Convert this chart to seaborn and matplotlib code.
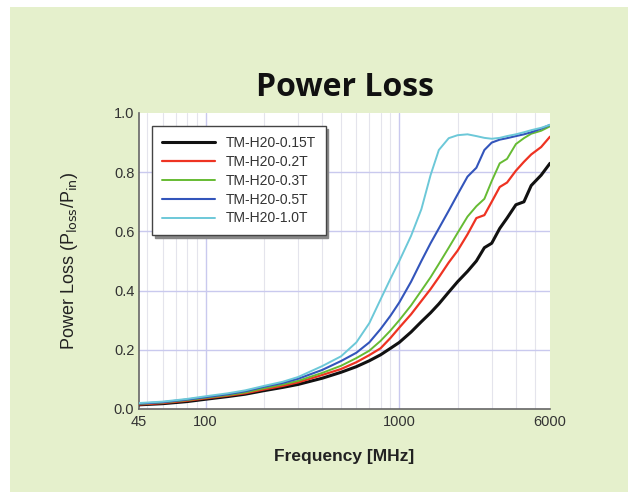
import numpy as np
import pandas as pd
import matplotlib
matplotlib.use("Agg")
import matplotlib.pyplot as plt
from matplotlib.patches import Rectangle
from matplotlib.ticker import FixedLocator, NullFormatter
import seaborn as sns

# frequency grid [MHz]
freq = [45, 60, 80, 100, 130, 160, 200, 250, 300, 400, 500, 600, 700, 800, 900,
        1000, 1150, 1300, 1450, 1600, 1800, 2000, 2250, 2500, 2750, 3000, 3300,
        3600, 4000, 4400, 4800, 5400, 6000]

loss_015 = [.014, .018, .025, .033, .042, .050, .062, .073, .083, .104, .124, .143,
            .163, .183, .205, .225, .260, .295, .325, .355, .395, .430, .465, .500,
            .545, .560, .610, .645, .690, .700, .755, .790, .830]
loss_02 = [.015, .020, .028, .036, .045, .053, .066, .078, .090, .115, .135, .158,
           .182, .205, .240, .275, .320, .365, .405, .445, .495, .535, .590, .645,
           .655, .700, .750, .765, .805, .835, .860, .885, .920]
loss_03 = [.017, .022, .030, .038, .047, .056, .070, .083, .095, .122, .146, .172,
           .197, .230, .265, .300, .350, .400, .445, .490, .545, .595, .650, .685,
           .710, .770, .830, .845, .895, .915, .930, .940, .955]
loss_05 = [.018, .023, .032, .040, .050, .060, .075, .088, .102, .132, .162, .190,
           .225, .270, .315, .360, .430, .500, .560, .610, .670, .725, .785, .815,
           .875, .900, .910, .915, .922, .928, .935, .947, .960]
loss_10 = [.020, .025, .034, .043, .053, .063, .078, .092, .108, .145, .178, .225,
           .290, .370, .440, .500, .585, .675, .790, .875, .915, .925, .928, .922,
           .916, .913, .916, .922, .928, .935, .942, .950, .960]

series = ["TM-H20-0.15T", "TM-H20-0.2T", "TM-H20-0.3T", "TM-H20-0.5T", "TM-H20-1.0T"]
colors = ["#111111", "#ee3322", "#66bb33", "#3355bb", "#6cc8d8"]
widths = [2.2, 1.6, 1.4, 1.5, 1.4]

values = [loss_015, loss_02, loss_03, loss_05, loss_10]
df = pd.concat([pd.DataFrame({"freq": freq, "loss": v, "series": s})
                for s, v in zip(series, values)], ignore_index=True)

sns.set_style("white")
plt.rcParams["font.family"] = ["Liberation Sans", "DejaVu Sans"]

fig = plt.figure(figsize=(6.39, 4.95), dpi=100, facecolor="white")
# light green panel behind everything
fig.patches.append(Rectangle((10 / 639, 1 - 492 / 495), 618 / 639, 485 / 495,
                             transform=fig.transFigure, facecolor="#e5f0cc",
                             edgecolor="none", zorder=-10))
ax = fig.add_axes([138.5 / 639, 1 - 409 / 495, 411.5 / 639, 296 / 495])
ax.set_zorder(2)
ax.set_facecolor("white")

for s, c, w in zip(series, colors, widths):
    sns.lineplot(data=df[df["series"] == s], x="freq", y="loss", color=c,
                 linewidth=w, ax=ax, label=s, zorder=3,
                 solid_joinstyle="round", solid_capstyle="round")

ax.set_xscale("log")
ax.set_xlim(45, 6000)
ax.set_ylim(0, 1.0)

major_x = [45, 100, 1000, 6000]
minor_x = [50, 60, 70, 80, 90, 200, 300, 400, 500, 600, 700, 800, 900,
           2000, 3000, 4000, 5000]
ax.xaxis.set_major_locator(FixedLocator(major_x))
ax.xaxis.set_minor_locator(FixedLocator(minor_x))
ax.xaxis.set_minor_formatter(NullFormatter())
ax.set_xticklabels([str(v) for v in major_x])
ax.set_yticks(np.arange(0, 1.01, 0.2))
ax.set_yticks(np.arange(0.1, 1.0, 0.2), minor=True)
ax.set_yticklabels([f"{v:.1f}" for v in np.arange(0, 1.01, 0.2)])

for v in [100, 1000]:
    ax.axvline(v, color="#c9c9ee", lw=1.0, zorder=1)
for v in minor_x:
    ax.axvline(v, color="#e4e4ec", lw=0.8, zorder=1)
for v in [0.2, 0.4, 0.6, 0.8]:
    ax.axhline(v, color="#c9c9ee", lw=1.0, zorder=1)

ax.tick_params(axis="both", which="both", direction="in", colors="#555555",
               labelcolor="#333333", labelsize=10.5)
ax.tick_params(which="major", length=5)
ax.tick_params(which="minor", length=3)
ax.tick_params(axis="x", pad=4)
ax.tick_params(axis="y", pad=3)

for side in ["top", "right"]:
    ax.spines[side].set_visible(False)
for side in ["left", "bottom"]:
    ax.spines[side].set_color("#666666")
    ax.spines[side].set_linewidth(1.2)

ax.set_xlabel("Frequency [MHz]", fontsize=12.5, fontweight="bold",
              color="#222222", labelpad=15)
ax.set_ylabel("Power Loss (P$_{\\rm loss}$/P$_{\\rm in}$)", fontsize=13,
              color="#222222", labelpad=24)

leg = ax.legend(loc="upper left", bbox_to_anchor=(0.033, 0.955), fontsize=10,
                frameon=True, fancybox=False, shadow={"color": "#888888", "alpha": 1},
                handlelength=3.8, handletextpad=0.8, labelspacing=0.35,
                borderpad=0.7, borderaxespad=0)
leg.get_frame().set_edgecolor("#444444")
leg.get_frame().set_linewidth(1.0)
for t in leg.get_texts():
    t.set_color("#333333")

fig.text(345 / 639, 1 - 87 / 495, "Power Loss", ha="center", va="center",
         fontsize=23, fontweight="bold", family=["Open Sans", "DejaVu Sans"],
         color="#111111")

fig.savefig("out.png", dpi=100, facecolor=fig.get_facecolor())
